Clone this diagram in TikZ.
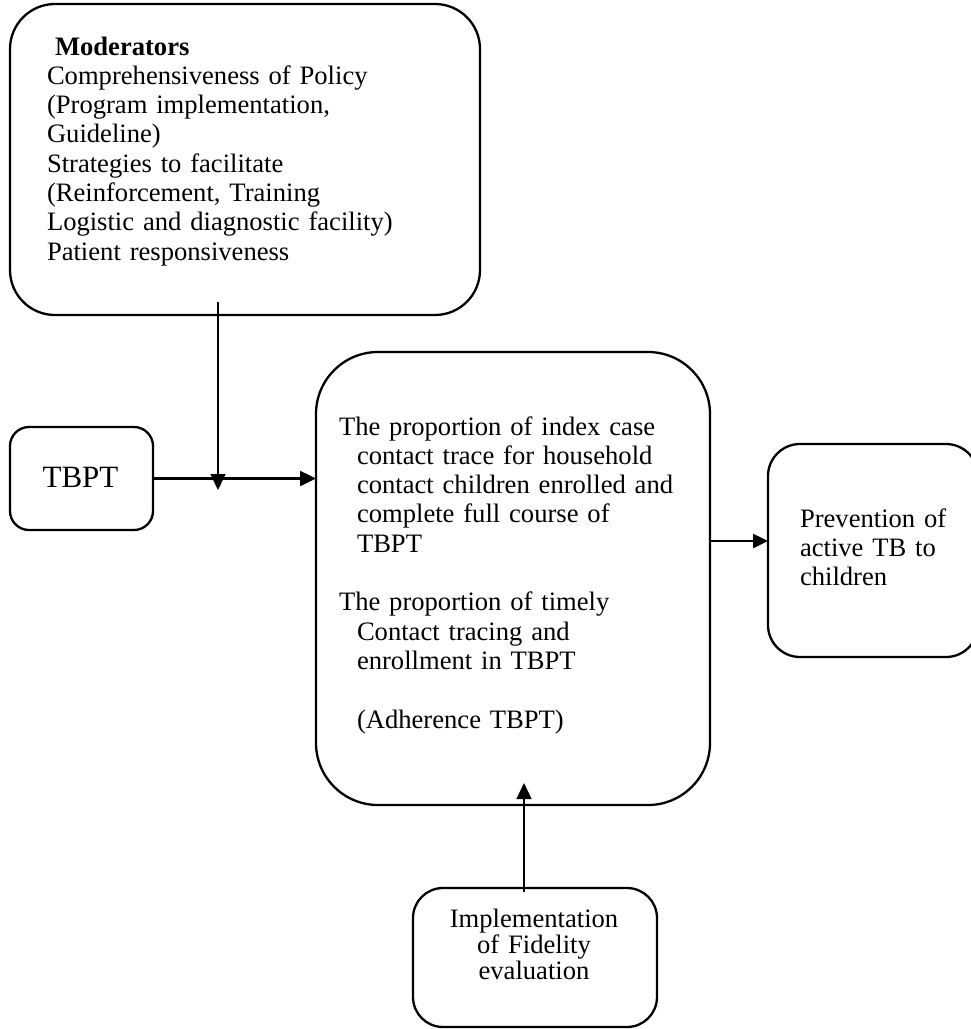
\documentclass[tikz,border=0pt]{standalone}
\usepackage{fontspec}
\setmainfont{Liberation Serif}
\usetikzlibrary{arrows.meta}

\begin{document}
\begin{tikzpicture}[x=1pt,y=-1pt,
  box/.style={draw, line width=2.3pt, inner sep=0pt, outer sep=0pt},
  body/.style={inner sep=0pt, outer sep=0pt, align=left,
    font=\fontsize{26.6}{29.3}\selectfont},
  arrowline/.style={line width=2.5pt, -{Triangle[length=16pt,width=15pt]}},
  thinarrow/.style={line width=1.3pt, -{Triangle[length=16pt,width=15pt]}}]

\useasboundingbox (0,0) rectangle (971,1029);

% boxes
\node[box, rounded corners=45pt, minimum width=470pt, minimum height=311pt] (mod) at (245,159.5) {};
\node[box, rounded corners=19pt, minimum width=143pt, minimum height=103pt] (tbpt) at (81.5,478.5) {};
\node[box, rounded corners=62pt, minimum width=394pt, minimum height=453pt] (main) at (513,578.5) {};
\node[box, rounded corners=32pt, minimum width=210pt, minimum height=213pt] (prev) at (873,550.5) {};
\node[box, rounded corners=30pt, minimum width=244pt, minimum height=139pt] (impl) at (535,957.5) {};

% texts
\node[body, anchor=base west, text width=430pt] (modtxt) at (47,55)
  {\hspace*{8pt}\textbf{Moderators}\\
   Comprehensiveness of Policy\\
   (Program implementation,\\
   Guideline)\\
   Strategies to facilitate\\
   (Reinforcement, Training\\
   Logistic and diagnostic facility)\\
   Patient responsiveness};

\node[inner sep=0pt, anchor=base, font=\fontsize{31}{34}\selectfont] (tbpttxt) at (80.5,487) {TBPT};

\node[body, anchor=base west, text width=370pt] (maintxt) at (339,435)
  {The proportion of index case\\
   \hspace*{18pt}contact trace for household\\
   \hspace*{18pt}contact children enrolled and\\
   \hspace*{18pt}complete full course of\\
   \hspace*{18pt}TBPT\\[29.3pt]
   The proportion of timely\\
   \hspace*{18pt}Contact tracing and\\
   \hspace*{18pt}enrollment in TBPT\\[29.3pt]
   \hspace*{18pt}(Adherence TBPT)};

\node[body, anchor=base west, text width=170pt] (prevtxt) at (800,527)
  {Prevention of\\
   active TB to\\
   children};

\node[body, anchor=base, text width=220pt, align=center,
  font=\fontsize{26.6}{26}\selectfont] (impltxt) at (534,927)
  {Implementation\\
   of Fidelity\\
   evaluation};

% connectors
\coordinate (modfoot) at (218,302);
\coordinate (modtip) at (218,490);
\draw[thinarrow] (modfoot) -- (modtip);

\draw[arrowline] (tbpt.east) -- (tbpt.east -| main.west);

\coordinate (mainout) at ([yshift=37.5pt]main.east);
\draw[line width=2.5pt, -{Triangle[length=15pt,width=14pt]}] (mainout) -- (mainout -| prev.west);

\coordinate (implfoot) at (524,892);
\coordinate (impltip) at (524,783);
\draw[thinarrow] (implfoot) -- (impltip);

\end{tikzpicture}
\end{document}
